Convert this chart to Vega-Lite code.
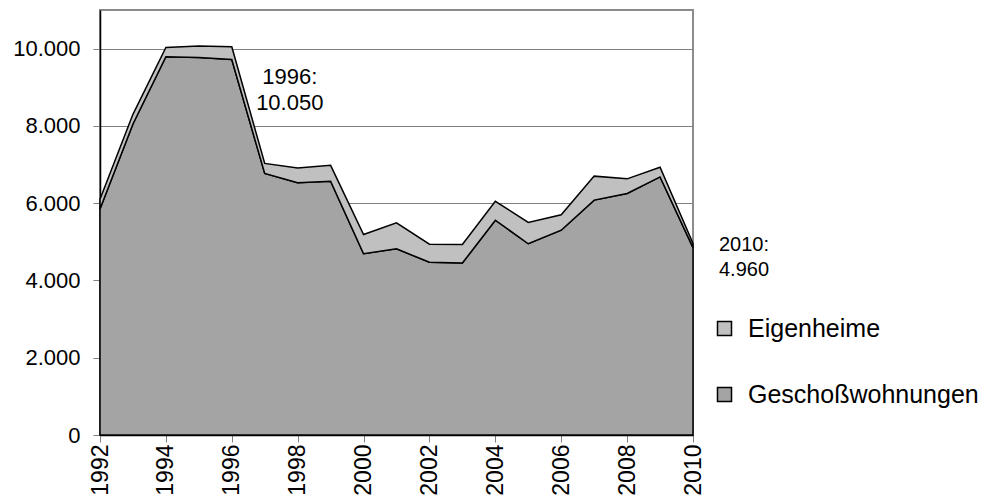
{
  "$schema": "https://vega.github.io/schema/vega-lite/v6.json",
  "width": 593,
  "height": 425,
  "autosize": {"type": "none"},
  "padding": {"left": 100, "top": 10, "right": 306, "bottom": 65},
  "config": {
    "locale": {"number": {"decimal": ",", "thousands": ".", "grouping": [3], "currency": ["", " €"]}},
    "font": "Liberation Sans",
    "view": {"stroke": "#8c8c8c", "strokeWidth": 2},
    "axis": {"labelColor": "black", "labelFont": "Liberation Sans", "labelFontSize": 22, "tickColor": "#808080", "domainColor": "black", "domainWidth": 1.5}
  },
  "data": {
    "values": [
      {"year": 1992, "series": "Geschoßwohnungen", "value": 5850},
      {"year": 1993, "series": "Geschoßwohnungen", "value": 8050},
      {"year": 1994, "series": "Geschoßwohnungen", "value": 9790},
      {"year": 1995, "series": "Geschoßwohnungen", "value": 9770},
      {"year": 1996, "series": "Geschoßwohnungen", "value": 9720},
      {"year": 1997, "series": "Geschoßwohnungen", "value": 6770},
      {"year": 1998, "series": "Geschoßwohnungen", "value": 6530},
      {"year": 1999, "series": "Geschoßwohnungen", "value": 6570},
      {"year": 2000, "series": "Geschoßwohnungen", "value": 4690},
      {"year": 2001, "series": "Geschoßwohnungen", "value": 4820},
      {"year": 2002, "series": "Geschoßwohnungen", "value": 4470},
      {"year": 2003, "series": "Geschoßwohnungen", "value": 4450},
      {"year": 2004, "series": "Geschoßwohnungen", "value": 5560},
      {"year": 2005, "series": "Geschoßwohnungen", "value": 4950},
      {"year": 2006, "series": "Geschoßwohnungen", "value": 5300},
      {"year": 2007, "series": "Geschoßwohnungen", "value": 6080},
      {"year": 2008, "series": "Geschoßwohnungen", "value": 6250},
      {"year": 2009, "series": "Geschoßwohnungen", "value": 6680},
      {"year": 2010, "series": "Geschoßwohnungen", "value": 4850},
      {"year": 1992, "series": "Eigenheime", "value": 250},
      {"year": 1993, "series": "Eigenheime", "value": 250},
      {"year": 1994, "series": "Eigenheime", "value": 240},
      {"year": 1995, "series": "Eigenheime", "value": 300},
      {"year": 1996, "series": "Eigenheime", "value": 330},
      {"year": 1997, "series": "Eigenheime", "value": 260},
      {"year": 1998, "series": "Eigenheime", "value": 380},
      {"year": 1999, "series": "Eigenheime", "value": 410},
      {"year": 2000, "series": "Eigenheime", "value": 500},
      {"year": 2001, "series": "Eigenheime", "value": 670},
      {"year": 2002, "series": "Eigenheime", "value": 470},
      {"year": 2003, "series": "Eigenheime", "value": 480},
      {"year": 2004, "series": "Eigenheime", "value": 490},
      {"year": 2005, "series": "Eigenheime", "value": 550},
      {"year": 2006, "series": "Eigenheime", "value": 400},
      {"year": 2007, "series": "Eigenheime", "value": 620},
      {"year": 2008, "series": "Eigenheime", "value": 380},
      {"year": 2009, "series": "Eigenheime", "value": 250},
      {"year": 2010, "series": "Eigenheime", "value": 110}
    ]
  },
  "layer": [
    {
      "mark": {"type": "area", "stroke": "black", "strokeWidth": 1.5, "strokeJoin": "miter"},
      "encoding": {
        "x": {
          "field": "year", "type": "quantitative", "title": null,
          "scale": {"domain": [1992, 2010], "nice": false, "zero": false},
          "axis": {
            "values": [1992, 1993, 1994, 1995, 1996, 1997, 1998, 1999, 2000, 2001, 2002, 2003, 2004, 2005, 2006, 2007, 2008, 2009, 2010],
            "format": "d",
            "labelExpr": "datum.value % 2 == 0 ? datum.label : ''",
            "labelAngle": 270, "labelAlign": "right", "labelBaseline": "middle",
            "labelFontSize": 23,
            "labelPadding": 2, "tickSize": 7, "grid": false,
            "labelOverlap": false, "labelFlush": false
          }
        },
        "y": {
          "field": "value", "type": "quantitative", "stack": "zero", "title": null,
          "scale": {"domain": [0, 11000], "nice": false},
          "axis": {
            "values": [0, 2000, 4000, 6000, 8000, 10000],
            "format": ",d",
            "tickSize": 7, "labelPadding": 13,
            "grid": true, "gridColor": "#808080", "gridWidth": 1
          }
        },
        "color": {
          "field": "series", "type": "nominal",
          "scale": {"domain": ["Eigenheime", "Geschoßwohnungen"], "range": ["#c0c0c0", "#a4a4a4"]},
          "legend": {
            "title": null, "orient": "none", "legendX": 612, "legendY": 306,
            "labelFontSize": 25, "labelColor": "black", "labelFont": "Liberation Sans", "labelLimit": 400,
            "symbolType": "square", "symbolSize": 196,
            "symbolStrokeColor": "black", "symbolStrokeWidth": 1.5, "symbolOpacity": 1,
            "rowPadding": 40, "labelOffset": 11, "padding": 0
          }
        },
        "order": {"field": "series", "sort": "descending"}
      }
    },
    {
      "transform": [
        {"filter": "datum.year == 1996"},
        {"aggregate": [{"op": "sum", "field": "value", "as": "total"}], "groupby": ["year"]},
        {"calculate": "[datum.year + ':', replace(format(datum.total, ','), ',', '.')]", "as": "label"}
      ],
      "mark": {"type": "text", "align": "center", "baseline": "alphabetic", "dx": 58, "dy": 37, "fontSize": 22, "lineHeight": 26, "font": "Liberation Sans", "color": "black"},
      "encoding": {
        "x": {"field": "year", "type": "quantitative", "title": null},
        "y": {"field": "total", "type": "quantitative", "title": null},
        "text": {"field": "label"}
      }
    },
    {
      "transform": [
        {"filter": "datum.year == 2010"},
        {"aggregate": [{"op": "sum", "field": "value", "as": "total"}], "groupby": ["year"]},
        {"calculate": "[datum.year + ':', replace(format(datum.total, ','), ',', '.')]", "as": "label"}
      ],
      "mark": {"type": "text", "align": "left", "baseline": "alphabetic", "dx": 26, "dy": 8, "fontSize": 20, "lineHeight": 25, "font": "Liberation Sans", "color": "black"},
      "encoding": {
        "x": {"field": "year", "type": "quantitative", "title": null},
        "y": {"field": "total", "type": "quantitative", "title": null},
        "text": {"field": "label"}
      }
    }
  ]
}
